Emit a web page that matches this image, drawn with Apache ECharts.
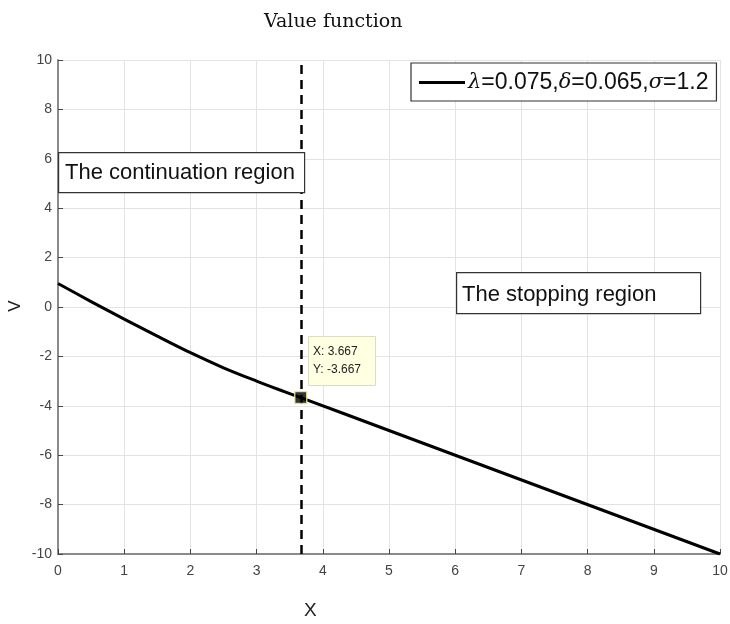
<!DOCTYPE html>
<html><head><meta charset="utf-8">
<script src="https://cdn.jsdelivr.net/npm/echarts@6/dist/echarts.min.js"></script>
<style>html,body{margin:0;padding:0;background:#fff}#c{width:730px;height:624px}</style>
</head><body><div id="c"></div>
<script>
const xValues = [0, 0.5, 1, 1.5, 2, 2.5, 3, 3.333, 3.667, 5, 10];
const vValues = [0.95, 0.22, -0.49, -1.18, -1.85, -2.46, -3.0, -3.34, -3.667, -5, -10];
const threshold = 3.667;
const tipPoint = [3.667, -3.667];
const legendName = 'λ=0.075,δ=0.065,σ=1.2';
const titleText = 'Value function';
const contText = 'The continuation region';
const stopText = 'The stopping region';

const chart = echarts.init(document.getElementById('c'));
const gridColor = '#e3e3e3';
const axisColor = '#8a8a8a';
chart.setOption({
  animation: false,
  title: {text: titleText, left: 259, top: 8,
    textStyle: {fontFamily: 'DejaVu Serif', fontWeight: 'normal', fontSize: 19, color: '#111'}},
  grid: {left: 58, right: 10, top: 60, bottom: 70, containLabel: false, outerBoundsMode: 'none'},
  legend: {
    left: 411, top: 63, width: 306, height: 38,
    padding: [8, 8, 7, 8],
    borderColor: '#333', borderWidth: 1.2, backgroundColor: '#fff',
    itemWidth: 46, itemHeight: 3, itemGap: 0,
    icon: 'rect',
    data: [{name: legendName, itemStyle: {color: '#000'}}],
    formatter: function(){ return '{g|λ}=0.075,{g|δ}=0.065,{g|σ}=1.2'; },
    textStyle: {fontFamily: 'Liberation Sans', fontSize: 23, color: '#111', padding: [0, 0, 0, -2],
      rich: {g: {fontFamily: 'DejaVu Serif', fontStyle: 'italic', fontSize: 21, color: '#111'}}}
  },
  xAxis: {
    type: 'value', min: 0, max: 10, interval: 1,
    axisLine: {show: true, onZero: false, lineStyle: {color: axisColor, width: 2}},
    axisTick: {show: true, inside: true, length: 5, lineStyle: {color: '#444'}},
    axisLabel: {color: '#444', fontSize: 14, fontFamily: 'Liberation Sans', margin: 10},
    splitLine: {show: true, lineStyle: {color: gridColor, width: 1}}
  },
  yAxis: {
    type: 'value', min: -10, max: 10, interval: 2,
    axisLine: {show: true, onZero: false, lineStyle: {color: axisColor, width: 2}},
    axisTick: {show: true, inside: true, length: 5, lineStyle: {color: '#444'}},
    axisLabel: {color: '#444', fontSize: 14, fontFamily: 'Liberation Sans', margin: 6},
    splitLine: {show: true, lineStyle: {color: gridColor, width: 1}}
  },
  series: [
    {
      name: legendName, type: 'line',
      data: xValues.map((x, i) => [x, vValues[i]]),
      smooth: 0.3, showSymbol: false,
      lineStyle: {color: '#000', width: 3},
      markLine: {
        silent: true, symbol: 'none', label: {show: false},
        lineStyle: {color: '#000', width: 2.5, type: [9, 6]},
        data: [{xAxis: threshold}]
      },
      z: 3
    },
    {
      name: 'tip', type: 'scatter', data: [tipPoint],
      symbol: 'rect', symbolSize: 12,
      itemStyle: {color: '#000', borderColor: '#f5f0a0', borderWidth: 1.5},
      z: 5
    }
  ],
  graphic: [
    {type: 'text', x: 15, y: 306, rotation: Math.PI / 2,
      style: {text: 'V', fontFamily: 'Liberation Sans', fontSize: 17, fill: '#222', align: 'center', verticalAlign: 'middle'}, z: 11},
    {type: 'rect', left: 58, top: 152, shape: {width: 246, height: 40},
      style: {fill: '#fff', stroke: '#333', lineWidth: 1.2}, z: 10},
    {type: 'text', x: 65, y: 173, style: {text: contText, fontFamily: 'Liberation Sans', fontSize: 22, fill: '#111', verticalAlign: 'middle'}, z: 11},
    {type: 'rect', left: 456, top: 272, shape: {width: 244, height: 41},
      style: {fill: '#fff', stroke: '#333', lineWidth: 1.2}, z: 10},
    {type: 'text', x: 462, y: 295, style: {text: stopText, fontFamily: 'Liberation Sans', fontSize: 22, fill: '#111', verticalAlign: 'middle'}, z: 11},
    {type: 'rect', left: 308, top: 336, shape: {width: 67, height: 49},
      style: {fill: '#ffffe1', stroke: '#dcdcc0', lineWidth: 1}, z: 10},
    {type: 'text', left: 313, top: 343, style: {text: 'X: 3.667\nY: -3.667', fontFamily: 'Liberation Sans', fontSize: 12, lineHeight: 18, fill: '#222'}, z: 11},
    {type: 'text', left: 304, top: 601, style: {text: 'X', fontFamily: 'Liberation Sans', fontSize: 19, fill: '#222'}, z: 11}
  ]
});
</script>
</body></html>
